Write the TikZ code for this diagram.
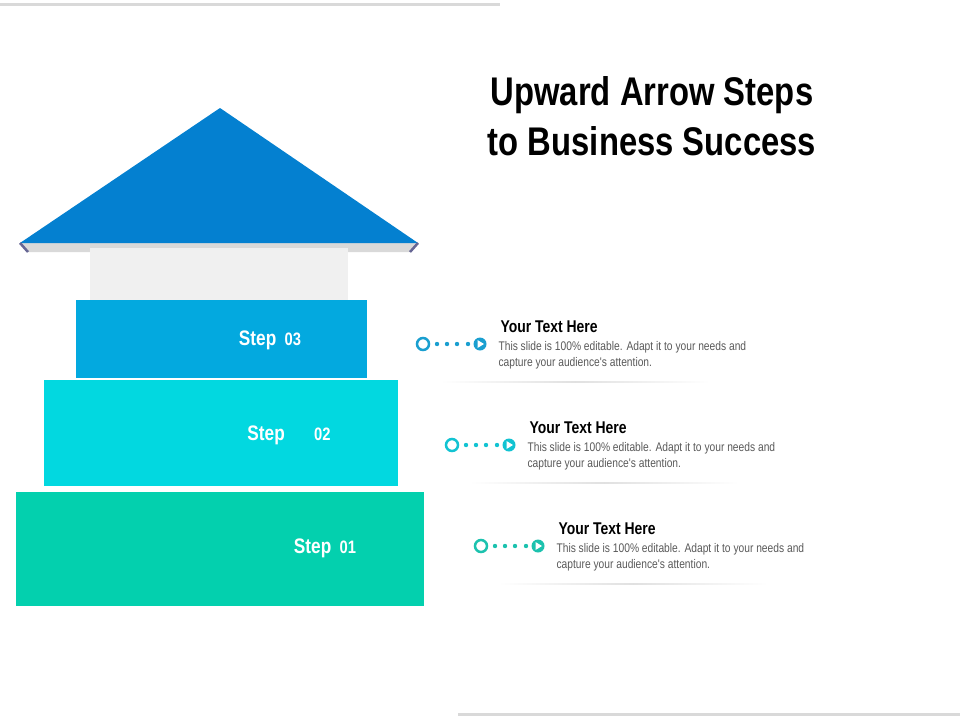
\documentclass[tikz,border=0pt]{standalone}
\usepackage{fontspec}
\setmainfont{Liberation Sans}
\newfontfamily\narrow[FakeStretch=0.82]{Liberation Sans}
\begin{document}
\begin{tikzpicture}[x=1pt,y=-1pt]
\definecolor{roof}{HTML}{0480D0}
\definecolor{sthree}{HTML}{03A9DF}
\definecolor{stwo}{HTML}{02D8E0}
\definecolor{sone}{HTML}{03D0AE}
\definecolor{ic1}{HTML}{1A9FD0}
\definecolor{ic2}{HTML}{12C3D2}
\definecolor{ic3}{HTML}{1CC2AE}
\tikzset{steplbl/.style={text=white,font=\narrow\bfseries,anchor=base},
 head/.style={font=\narrow\bfseries\fontsize{17}{20}\selectfont,anchor=base west},
 body/.style={font=\narrow\fontsize{12.5}{16}\selectfont,text=black!65,anchor=north west,align=left}}
\useasboundingbox (0,0) rectangle (960,720);
\fill[black!15] (0,3) rectangle (500,6);
\fill[black!15] (458,713) rectangle (960,716);
% roof
\fill[black!15] (20,243) -- (418,243) -- (410,252) -- (28,252) -- cycle;
\fill[roof] (220,108) -- (418,243) -- (20,243) -- cycle;
\draw[line width=2.5pt,color=black!70!blue!60] (20,243) -- (28,252) (418,243) -- (410,252);
\fill[black!6] (90,248) rectangle (348,300);
\node[fill=sthree,minimum width=291,minimum height=78,inner sep=0,anchor=north west] (s3) at (76,300) {};
\node[fill=stwo,minimum width=354,minimum height=106,inner sep=0,anchor=north west] (s2) at (44,380) {};
\node[fill=sone,minimum width=408,minimum height=114,inner sep=0,anchor=north west] (s1) at (16,492) {};
\node[steplbl] (l3) at (270,345) {\fontsize{21}{24}\selectfont Step\, \fontsize{18}{20}\selectfont 03};
\node[steplbl] (l2) at (289,440) {\fontsize{21}{24}\selectfont Step\quad\, \fontsize{18}{20}\selectfont 02};
\node[steplbl] (l1) at (325,553) {\fontsize{21}{24}\selectfont Step\, \fontsize{18}{20}\selectfont 01};
% title
\node[font=\narrow\bfseries\fontsize{40}{50}\selectfont,align=center] (title) at (652,116) {Upward Arrow Steps\\to Business Success};
% blocks
\foreach \dx/\dy/\c/\n in {0/0/ic1/a,29/101/ic2/b,58/202/ic3/c}{
 \begin{scope}[shift={(\dx,\dy)}]
 \node[circle,draw=\c,line width=2.5pt,minimum size=12,inner sep=0] (r\n) at (423,344) {};
 \foreach \xx in {437,447,457,468} \fill[\c] (\xx,344) circle (2.2);
 \node[circle,fill=\c,minimum size=13,inner sep=0] (p\n) at (480,344) {};
 \fill[white] (477.5,340) -- (484,344) -- (477.5,348) -- cycle;
 \node[head] (h\n) at (497,332) {Your Text Here};
 \node[body] (b\n) at (495,338) {This slide is 100\% editable. Adapt it to your needs and\\capture your audience's attention.};
 \shade[left color=white,right color=white,middle color=black!12] (440,381.5) rectangle (710,382.5);
 \end{scope}}
\end{tikzpicture}
\end{document}
